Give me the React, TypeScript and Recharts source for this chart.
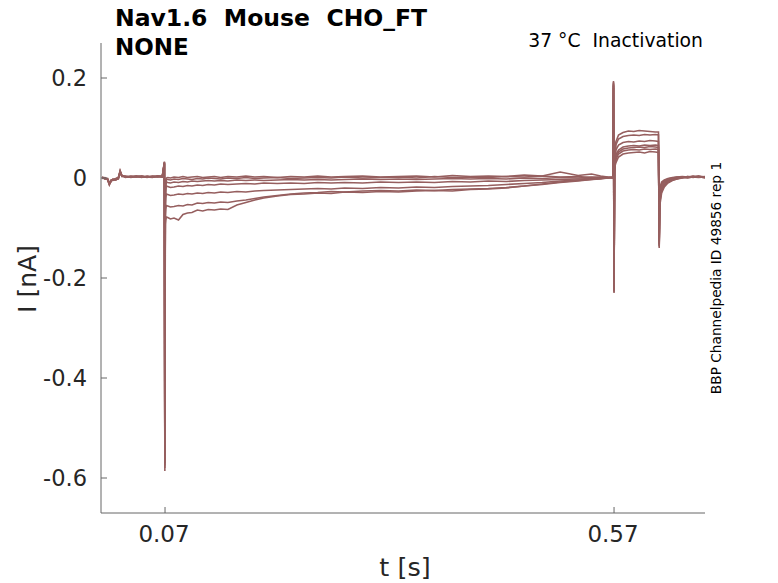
import { LineChart, Line, XAxis, YAxis } from "recharts";

// sample times [s]
const timeS = [
  0, 0.003, 0.006, 0.008, 0.01, 0.012, 0.015, 0.018, 0.02, 0.022, 0.026, 0.032, 0.038, 0.044, 0.05, 0.056, 0.062, 0.067,
  0.0693, 0.0698, 0.0703, 0.0708, 0.0715,
  0.073, 0.076, 0.08, 0.085, 0.09, 0.095, 0.1, 0.106, 0.112, 0.118,
  0.125, 0.132, 0.14, 0.15, 0.16, 0.17, 0.18, 0.195, 0.21, 0.225,
  0.24, 0.255, 0.27, 0.29, 0.31, 0.33, 0.35, 0.37, 0.39, 0.41,
  0.43, 0.45, 0.47, 0.49, 0.51, 0.53, 0.545, 0.555, 0.563,
  0.5688, 0.5694, 0.57, 0.5706, 0.5712,
  0.572, 0.575, 0.58, 0.586, 0.592, 0.598, 0.604, 0.61, 0.616,
  0.6195, 0.6203, 0.621, 0.623, 0.626, 0.63, 0.635, 0.64, 0.646, 0.652, 0.658, 0.664, 0.6713,
];

// currents [nA], one array per sweep
const traceA = [
  0.002, -0.001, -0.002, -0.01, -0.005, -0.004, -0.003, 0.0, 0.014, 0.004, 0.003, 0.002, 0.004, 0.002, 0.003, 0.002, 0.004, 0.003,
  0.031, -0.552, -0.03, -0.008, 0.0,
  0.001, 0.0, 0.002, 0.001, 0.003, 0.001, 0.002, 0.003, 0.001, 0.002,
  0.003, 0.001, 0.003, 0.002, 0.004, 0.002, 0.003, 0.001, 0.003, 0.002,
  0.004, 0.002, 0.003, 0.004, 0.002, 0.003, 0.004, 0.002, 0.005, 0.003,
  0.004, 0.003, 0.006, 0.004, 0.012, 0.005, 0.008, 0.004, 0.002,
  0.001, 0.18, -0.215, 0.01, 0.025,
  0.03, 0.042, 0.048, 0.05, 0.051, 0.052, 0.05, 0.053, 0.052,
  0.051, -0.12, -0.02, -0.008, -0.004, -0.001, 0.001, 0.002, 0.003, 0.002, 0.004, 0.002, 0.003,
];
const traceB = [
  0.0, 0.001, -0.003, -0.013, -0.006, -0.003, -0.004, -0.001, 0.012, 0.005, 0.002, 0.003, 0.002, 0.004, 0.002, 0.003, 0.002, 0.004,
  0.028, -0.56, -0.035, -0.012, -0.003,
  -0.003, -0.004, -0.002, -0.003, -0.001, -0.002, -0.003, -0.001, -0.002, 0.0,
  -0.001, -0.002, 0.0, -0.001, 0.001, -0.001, 0.0, 0.001, -0.001, 0.0,
  0.001, 0.0, 0.002, 0.0, 0.001, 0.002, 0.0, 0.003, 0.001, 0.002,
  0.001, 0.003, 0.002, 0.004, 0.002, 0.003, 0.001, 0.002, 0.001,
  0.002, 0.184, -0.22, 0.012, 0.028,
  0.036, 0.048, 0.054, 0.056, 0.057, 0.056, 0.058, 0.057, 0.058,
  0.057, -0.125, -0.025, -0.011, -0.006, -0.002, 0.0, 0.002, 0.001, 0.003, 0.002, 0.004, 0.001,
];
const traceC = [
  0.001, -0.002, -0.001, -0.011, -0.004, -0.005, -0.002, 0.001, 0.01, 0.003, 0.004, 0.001, 0.003, 0.003, 0.001, 0.004, 0.003, 0.002,
  0.03, -0.565, -0.04, -0.016, -0.008,
  -0.009, -0.01, -0.008, -0.009, -0.007, -0.008, -0.006, -0.007, -0.006, -0.005,
  -0.006, -0.005, -0.006, -0.004, -0.005, -0.004, -0.005, -0.004, -0.003, -0.004,
  -0.003, -0.004, -0.003, -0.002, -0.003, -0.002, -0.003, -0.002, -0.001, -0.002,
  -0.001, -0.002, 0.0, -0.001, 0.001, 0.0, 0.002, 0.001, 0.001,
  0.0, 0.186, -0.222, 0.014, 0.03,
  0.04, 0.052, 0.058, 0.06, 0.061, 0.062, 0.061, 0.063, 0.062,
  0.061, -0.128, -0.03, -0.014, -0.008, -0.004, -0.001, 0.001, 0.002, 0.001, 0.003, 0.002, 0.002,
];
const traceD = [
  -0.001, 0.0, -0.002, -0.012, -0.007, -0.003, -0.003, -0.002, 0.013, 0.004, 0.002, 0.002, 0.003, 0.001, 0.004, 0.002, 0.003, 0.003,
  0.032, -0.57, -0.048, -0.024, -0.016,
  -0.017, -0.019, -0.018, -0.016, -0.017, -0.015, -0.016, -0.014, -0.015, -0.013,
  -0.014, -0.012, -0.013, -0.012, -0.011, -0.012, -0.01, -0.011, -0.01, -0.011,
  -0.009, -0.01, -0.009, -0.01, -0.008, -0.009, -0.008, -0.009, -0.007, -0.008,
  -0.006, -0.007, -0.005, -0.004, -0.003, -0.002, -0.001, 0.0, 0.001,
  0.001, 0.188, -0.224, 0.016, 0.032,
  0.046, 0.056, 0.062, 0.064, 0.065, 0.064, 0.066, 0.065, 0.066,
  0.065, -0.132, -0.036, -0.018, -0.01, -0.005, -0.002, 0.0, 0.001, 0.003, 0.001, 0.003, 0.0,
];
const traceE = [
  0.002, -0.002, -0.003, -0.014, -0.005, -0.004, -0.001, 0.0, 0.011, 0.003, 0.003, 0.004, 0.002, 0.003, 0.002, 0.001, 0.004, 0.002,
  0.029, -0.575, -0.06, -0.04, -0.032,
  -0.033, -0.035, -0.034, -0.032, -0.033, -0.031, -0.032, -0.03, -0.031, -0.029,
  -0.03, -0.028, -0.029, -0.027, -0.028, -0.026, -0.025, -0.024, -0.023, -0.022,
  -0.021, -0.022, -0.02, -0.021, -0.019, -0.02, -0.018, -0.019, -0.017, -0.016,
  -0.015, -0.013, -0.011, -0.009, -0.006, -0.004, -0.002, -0.001, 0.0,
  0.002, 0.19, -0.226, 0.018, 0.035,
  0.056, 0.066, 0.071, 0.073, 0.072, 0.074, 0.073, 0.075, 0.074,
  0.073, -0.135, -0.042, -0.022, -0.013, -0.007, -0.003, -0.001, 0.002, 0.001, 0.002, 0.001, 0.002,
];
const traceF = [
  0.0, -0.001, -0.002, -0.01, -0.006, -0.002, -0.004, -0.001, 0.015, 0.005, 0.001, 0.003, 0.004, 0.002, 0.003, 0.003, 0.002, 0.004,
  0.031, -0.58, -0.075, -0.062, -0.055,
  -0.056, -0.058, -0.057, -0.055, -0.056, -0.053, -0.054, -0.05, -0.051, -0.049,
  -0.05, -0.048, -0.049, -0.046, -0.044, -0.041, -0.038, -0.035, -0.032, -0.03,
  -0.029, -0.027, -0.028, -0.026, -0.025, -0.026, -0.024, -0.025, -0.023, -0.022,
  -0.021, -0.019, -0.016, -0.012, -0.008, -0.005, -0.003, -0.001, 0.001,
  0.0, 0.192, -0.228, 0.02, 0.04,
  0.066, 0.078, 0.083, 0.085, 0.086, 0.085, 0.087, 0.086, 0.087,
  0.086, -0.137, -0.048, -0.026, -0.015, -0.008, -0.004, -0.002, 0.0, 0.002, 0.003, 0.002, 0.001,
];
const traceG = [
  0.001, 0.0, -0.003, -0.012, -0.005, -0.004, -0.002, 0.001, 0.012, 0.004, 0.003, 0.002, 0.003, 0.004, 0.002, 0.003, 0.004, 0.003,
  0.033, -0.586, -0.092, -0.084, -0.078,
  -0.079, -0.082, -0.08, -0.084, -0.073, -0.07, -0.069, -0.064, -0.066, -0.063,
  -0.064, -0.062, -0.063, -0.054, -0.049, -0.044, -0.04, -0.036, -0.033, -0.032,
  -0.03, -0.031, -0.028, -0.029, -0.027, -0.028, -0.026, -0.025, -0.026, -0.023,
  -0.022, -0.02, -0.016, -0.013, -0.009, -0.006, -0.003, -0.002, 0.0,
  0.001, 0.194, -0.23, 0.022, 0.045,
  0.072, 0.086, 0.091, 0.094, 0.093, 0.095, 0.094, 0.093, 0.092,
  0.092, -0.14, -0.055, -0.03, -0.018, -0.01, -0.005, -0.002, 0.001, 0.0, 0.002, 0.004, 0.002,
];

const traces = [traceA, traceB, traceC, traceD, traceE, traceF, traceG];
const xTicks = [0.07, 0.57];
const yTicks = [-0.6, -0.4, -0.2, 0, 0.2];

const rows = timeS.map((t, i) => {
  const r: Record<string, number> = { t };
  traces.forEach((tr, k) => {
    r["s" + k] = tr[i];
  });
  return r;
});

const FONT = "DejaVu Sans";
const TRACE_COLOR = "#965f5f";
const AXIS_COLOR = "#666666";
const LABEL_COLOR = "#262626";

const XTick = (props: any) => {
  const { x, y, payload } = props;
  return (
    <g>
      <line x1={x} x2={x} y1={y} y2={y - 6} stroke={AXIS_COLOR} />
      <text x={x - 1} y={y + 29} textAnchor="middle" fontSize={23} fill={LABEL_COLOR} fontFamily={FONT}>
        {String(payload.value)}
      </text>
    </g>
  );
};

const YTick = (props: any) => {
  const { x, y, payload } = props;
  return (
    <g>
      <line x1={x} x2={x + 6} y1={y} y2={y} stroke={AXIS_COLOR} />
      <text x={x - 14} y={y + 8} textAnchor="end" fontSize={22.5} fill={LABEL_COLOR} fontFamily={FONT}>
        {String(payload.value)}
      </text>
    </g>
  );
};

export default function App() {
  return (
    <div style={{ position: "absolute", left: 0, top: 0, width: 778, height: 583, background: "#fff" }}>
      <LineChart
        width={778}
        height={583}
        data={rows}
        margin={{ top: 43, right: 73, bottom: 30, left: 41 }}
      >
        <XAxis
          type="number"
          dataKey="t"
          domain={[-0.0013, 0.6713]}
          allowDataOverflow
          ticks={xTicks}
          tick={<XTick />}
          tickLine={false}
          tickSize={0}
          tickMargin={0}
          height={40}
          stroke={AXIS_COLOR}
        />
        <YAxis
          type="number"
          domain={[-0.67, 0.27]}
          allowDataOverflow
          ticks={yTicks}
          tick={<YTick />}
          tickLine={false}
          tickSize={0}
          tickMargin={0}
          width={60}
          stroke={AXIS_COLOR}
        />
        {traces.map((_, k) => (
          <Line
            key={k}
            type="linear"
            dataKey={"s" + k}
            stroke={TRACE_COLOR}
            strokeWidth={1.6}
            dot={false}
            activeDot={false}
            isAnimationActive={false}
          />
        ))}
        <text x={115} y={26} fontSize={23.5} fontWeight="bold" fontFamily={FONT} fill="#000" style={{ whiteSpace: "pre" }}>
          {"Nav1.6  Mouse  CHO_FT"}
        </text>
        <text x={115} y={55} fontSize={23} fontWeight="bold" fontFamily={FONT} fill="#000">
          NONE
        </text>
        <text x={703} y={47} textAnchor="end" fontSize={18.8} fontFamily={FONT} fill="#000" style={{ whiteSpace: "pre" }}>
          {"37 °C  Inactivation"}
        </text>
        <text
          x={721}
          y={278}
          textAnchor="middle"
          fontSize={13.7}
          fontFamily={FONT}
          fill="#000"
          transform="rotate(-90 721 278)"
        >
          BBP Channelpedia ID 49856 rep 1
        </text>
        <text x={405} y={576} textAnchor="middle" fontSize={25.5} fontFamily={FONT} fill={LABEL_COLOR}>
          t [s]
        </text>
        <text
          x={36}
          y={279}
          textAnchor="middle"
          fontSize={25}
          fontFamily={FONT}
          fill={LABEL_COLOR}
          transform="rotate(-90 36 279)"
        >
          I [nA]
        </text>
      </LineChart>
    </div>
  );
}
